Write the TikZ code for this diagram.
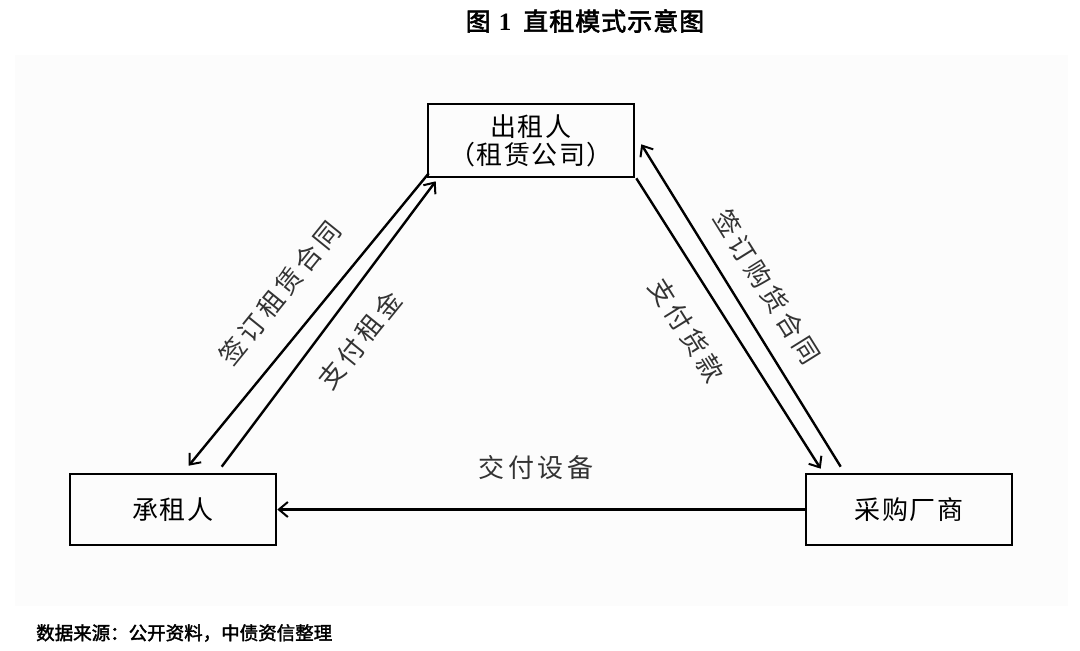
\documentclass[tikz,border=0pt]{standalone}
\usepackage{fontspec}
\setmainfont{Liberation Serif}
\newfontfamily\cjk{Noto Sans CJK SC}[LetterSpace=6]
\newfontfamily\cjks{Noto Sans CJK SC}[LetterSpace=15]
\newfontfamily\cjkb{Noto Sans CJK SC}[FakeBold=2]
\newfontfamily\cjkt{Noto Sans CJK SC}[FakeBold=2.5,LetterSpace=4]
\usetikzlibrary{arrows.meta,calc}
\begin{document}
\begin{tikzpicture}[x=1pt,y=-1pt,
  box/.style={draw=black,line width=2.6pt,minimum width=206pt,inner sep=0pt,align=center,font=\cjk\fontsize{26}{32}\selectfont},
  flow/.style={line width=2.4pt,-{Straight Barb[length=9pt,width=15pt,line width=2pt]}},
  lbl/.style={font=\cjks\fontsize{26}{30}\selectfont,inner sep=0pt,text=black!80}]
\useasboundingbox (0,0) rectangle (1080,651);
\fill[black!1] (15,55) rectangle (1068,606);
\node[font=\cjkt\fontsize{25}{28}\selectfont] (title) at (585,21) {图\hspace{8pt}{\rmfamily\bfseries 1}\hspace{12pt}直租模式示意图};
\node[box,minimum height=73pt] (lessor) at (531,140.5) {出租人\\[-4pt]（租赁公司）};
\node[box,minimum height=71pt] (lessee) at (173,509.5) {承租人};
\node[box,minimum height=71pt] (vendor) at (909,509.5) {采购厂商};
\draw[flow] ($(lessor.south west)+(2,-5)$) -- ($(lessee.north west)+(120,-7)$);
\draw[flow] ($(lessee.north west)+(153,-6)$) -- ($(lessor.south west)+(9,3)$);
\draw[flow] ($(lessor.south east)+(1,0)$) -- ($(vendor.north west)+(16,-4)$);
\draw[flow] ($(vendor.north west)+(36,-6)$) -- ($(lessor.south east)+(6,-34)$);
\draw[flow] (vendor.west) -- (lessee.east);
\node[lbl,rotate=51] (l1) at (280,293) {签订租赁合同};
\node[lbl,rotate=51] (l2) at (360,340) {支付租金};
\node[lbl,rotate=-58] (l3) at (767,287) {签订购货合同};
\node[lbl,rotate=-58] (l4) at (687,330) {支付货款};
\node[lbl] (l5) at (536,468) {交付设备};
\node[font=\cjkb\fontsize{18.5}{22}\selectfont,anchor=west,inner sep=0pt] (src) at (36,633) {数据来源：公开资料，中债资信整理};
\end{tikzpicture}
\end{document}
